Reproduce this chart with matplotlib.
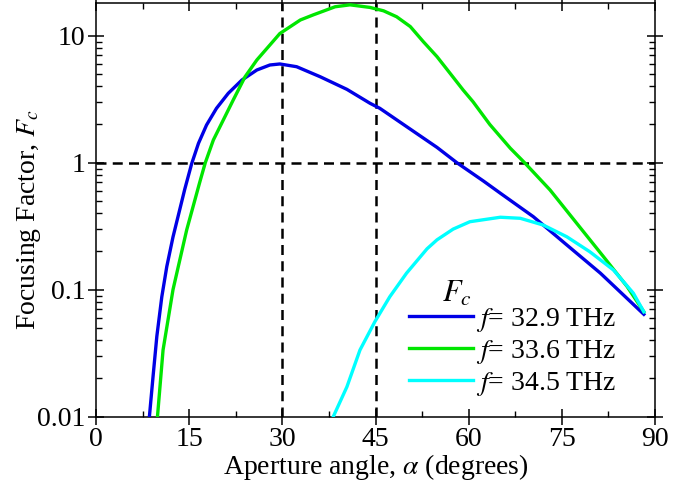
import numpy as np
import matplotlib.pyplot as plt
from matplotlib.ticker import FixedLocator, FixedFormatter, LogLocator, MultipleLocator

plt.rcParams['font.family'] = 'Liberation Serif'
plt.rcParams['mathtext.fontset'] = 'stix'

# focusing factor vs aperture angle, one curve per frequency
alpha_329 = [8.6, 9.2, 9.8, 10.6, 11.4, 12.4, 14.3, 15.4, 16.5, 17.8, 19.4, 21.3,
             23.5, 25.9, 28.0, 29.6, 32.3, 36.1, 40.4, 44.1, 45.7, 49.5, 54.9,
             58.1, 62.4, 65.1, 70.4, 75.8, 81.2, 88.2]
fc_329 = [0.010, 0.021, 0.043, 0.088, 0.152, 0.26, 0.62, 0.98, 1.42, 1.98, 2.68, 3.52,
          4.48, 5.37, 5.88, 5.99, 5.70, 4.75, 3.78, 2.94, 2.68, 2.0, 1.32,
          1.0, 0.716, 0.575, 0.376, 0.225, 0.135, 0.064]

alpha_336 = [9.9, 10.8, 12.4, 14.6, 16.7, 17.6, 18.9, 20.5, 22.1, 24.0, 25.9, 28.0,
             29.6, 32.9, 35.0, 38.5, 40.9, 44.1, 46.3, 48.4, 50.6, 52.7, 54.9,
             57.0, 59.1, 60.7, 63.4, 66.7, 69.0, 73.1, 77.4, 81.7, 85.5, 88.2]
fc_336 = [0.010, 0.0335, 0.10, 0.295, 0.70, 1.0, 1.51, 2.17, 3.12, 4.75, 6.44, 8.45,
          10.4, 13.3, 14.6, 16.9, 17.5, 16.7, 15.7, 14.1, 11.8, 8.97, 6.84,
          5.06, 3.74, 3.02, 2.0, 1.3, 1.0, 0.61, 0.333, 0.182, 0.106, 0.067]

alpha_345 = [38.2, 40.4, 42.5, 44.9, 47.3, 50.0, 53.3, 54.9, 57.5, 60.2, 65.1, 68.3,
             72.0, 75.8, 79.5, 83.3, 86.5, 88.2]
fc_345 = [0.010, 0.0172, 0.0335, 0.056, 0.088, 0.135, 0.21, 0.247, 0.30, 0.343, 0.372,
          0.365, 0.323, 0.261, 0.199, 0.143, 0.094, 0.067]

labels = [r'$f$= 32.9 THz', r'$f$= 33.6 THz', r'$f$= 34.5 THz']
colors = ['#0000e6', '#00e600', '#00ffff']

fig = plt.figure(figsize=(6.73, 4.90), dpi=100)
ax = fig.add_axes([0.1426, 0.1496, 0.8307, 0.8437])

ax.plot(alpha_329, fc_329, color=colors[0], lw=2.4, label=labels[0], zorder=3)
ax.plot(alpha_336, fc_336, color=colors[1], lw=2.4, label=labels[1], zorder=3)
ax.plot(alpha_345, fc_345, color=colors[2], lw=2.4, label=labels[2], zorder=3)

# reference lines
for xv in [30, 45]:
    ax.axvline(xv, color='k', lw=1.8, ls=(0, (4, 2.5)), zorder=2)
ax.axhline(1, color='k', lw=1.8, ls=(0, (4, 2.5)), zorder=2)

ax.set_yscale('log')
ax.set_xlim(0, 90)
ax.set_ylim(0.01, 18)

ax.xaxis.set_major_locator(MultipleLocator(15))
ax.xaxis.set_minor_locator(MultipleLocator(7.5))
ax.yaxis.set_major_locator(FixedLocator([0.01, 0.1, 1, 10]))
ax.yaxis.set_major_formatter(FixedFormatter(['0.01', '0.1', '1', '10']))
ax.yaxis.set_minor_locator(LogLocator(base=10, subs=np.arange(2, 10)))
ax.yaxis.set_minor_formatter(FixedFormatter([]))

ax.tick_params(which='major', direction='inout', length=11, width=1.1,
               top=True, right=True, labelsize=20, pad=2)
ax.tick_params(which='minor', direction='in', length=4, width=1.0,
               top=True, right=True)
for s in ax.spines.values():
    s.set_linewidth(1.1)

ax.set_xlabel(r'Aperture angle, $\alpha$ (degrees)', fontsize=20, labelpad=0)
ax.set_ylabel(r'Focusing Factor, $F_c$', fontsize=20)
ax.yaxis.set_label_coords(-0.095, 0.476)

leg = ax.legend(loc='lower right', bbox_to_anchor=(0.95, 0.018), frameon=False,
                fontsize=20, handlelength=2.3, handletextpad=0.1,
                labelspacing=0.15, borderaxespad=0)
ax.text(0.619, 0.277, r'$F_c$', transform=ax.transAxes, fontsize=22, va='baseline')

fig.savefig('out.png', dpi=100)
